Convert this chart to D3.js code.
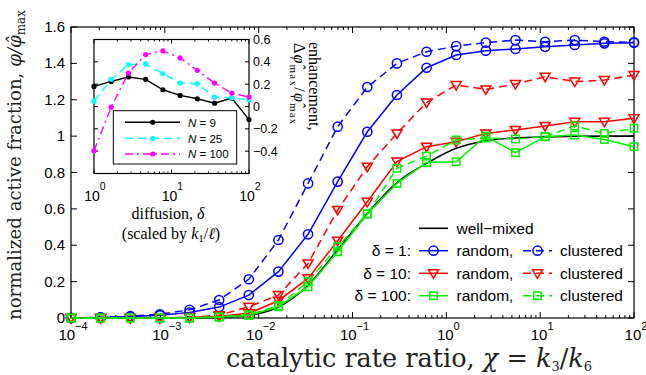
<!DOCTYPE html>
<html><head><meta charset="utf-8">
<script src="https://cdn.jsdelivr.net/npm/d3@7"></script>
<style>body{margin:0;background:#fff}svg{display:block}</style>
</head><body>
<script>
// ---- data ----
const chi = [1.0e-4, 2.069e-4, 4.281e-4, 8.859e-4, 1.833e-3, 3.793e-3, 7.848e-3, 1.624e-2, 3.360e-2, 6.952e-2,
             0.1438, 0.2976, 0.6158, 1.274, 2.637, 5.456, 11.29, 23.36, 48.33, 100];
const wellMixed    = [0,0,0,0,0.001,0.004,0.015,0.06,0.18,0.375,0.575,0.745,0.85,0.933,0.975,0.99,0.996,0.999,1,1];
const d1Random     = [0,0.003,0.008,0.015,0.03,0.06,0.126,0.255,0.46,0.75,1.024,1.226,1.376,1.446,1.47,1.479,1.491,1.501,1.51,1.513];
const d1Clustered  = [0,0.004,0.01,0.02,0.045,0.099,0.213,0.429,0.74,1.052,1.27,1.40,1.464,1.495,1.514,1.528,1.519,1.528,1.519,1.516];
const d10Random    = [0,0,0,0,0.003,0.01,0.026,0.095,0.218,0.425,0.639,0.86,0.942,0.969,1.015,1.034,1.056,1.079,1.079,1.098];
const d10Clustered = [0,0,0,0,0.005,0.015,0.062,0.126,0.30,0.594,0.832,1.015,1.185,1.281,1.257,1.286,1.327,1.30,1.308,1.336];
const d100Random   = [0,0,0,0,0,0.005,0.014,0.062,0.172,0.364,0.572,0.74,0.855,0.859,1.0,0.909,0.997,1.006,0.982,0.942];
const d100Clustered= [0,0,0,0,0,0.006,0.018,0.068,0.2,0.392,0.572,0.823,0.89,0.979,0.99,0.984,0.997,1.056,1.015,1.043];
const yTicks = [0,0.2,0.4,0.6,0.8,1,1.2,1.4,1.6];
const xTickExp = [-4,-3,-2,-1,0,1,2];

const diffusion = [1, 1.668, 2.783, 4.642, 7.743, 12.915, 21.544, 35.938, 59.948, 100];
const enhN9   = [0.18,0.225,0.264,0.243,0.15,0.099,0.069,0.03,0.075,-0.117];
const enhN25  = [0.048,0.243,0.375,0.381,0.294,0.21,0.204,0.084,0.078,0.06];
const enhN100 = [-0.396,-0.006,0.3,0.465,0.498,0.435,0.324,0.21,0.12,0.084];
const insetYTicks = [-0.4,-0.2,0,0.2,0.4,0.6];
const insetXTickExp = [0,1,2];

// ---- setup ----
const W = 646, H = 375;
const svg = d3.select("body").append("svg").attr("width", W).attr("height", H);
const sans = "'Liberation Sans', Arial, sans-serif";
const serif = "'Liberation Serif', 'Times New Roman', serif";
const wideSerif = "'DejaVu Serif', serif";

const x = d3.scaleLog().domain([1e-4, 1e2]).range([71, 634]);
const y = d3.scaleLinear().domain([0, 1.6]).range([318, 27]);

const BLUE = "#0000ff", RED = "#ff0000", GREEN = "#00f000";

function logTicks(lo, hi) {
  const major = [], minor = [];
  for (let e = lo; e <= hi; e++) {
    major.push(Math.pow(10, e));
    if (e < hi) for (let m = 2; m <= 9; m++) minor.push(m * Math.pow(10, e));
  }
  return {major, minor};
}

function fitText(sel, target) {
  const len = sel.node().getComputedTextLength();
  const fs = parseFloat(sel.attr("font-size"));
  sel.attr("font-size", fs * target / len);
}
function spreadText(sel, target) {
  const len = sel.node().getComputedTextLength();
  const n = sel.text().length;
  sel.attr("letter-spacing", Math.max(0, (target - len) / n));
}

// ---- main axes ----
const g = svg.append("g");
const [x0, x1] = x.range(), [yb, yt] = y.range();
g.append("rect").attr("x", x0).attr("y", yt).attr("width", x1 - x0).attr("height", yb - yt)
  .attr("fill", "none").attr("stroke", "#000").attr("stroke-width", 1.2);

const lt = logTicks(-4, 2);
lt.major.forEach(v => {
  g.append("line").attr("x1", x(v)).attr("x2", x(v)).attr("y1", yb).attr("y2", yb - 6).attr("stroke", "#000");
  g.append("line").attr("x1", x(v)).attr("x2", x(v)).attr("y1", yt).attr("y2", yt + 6).attr("stroke", "#000");
});
lt.minor.forEach(v => {
  g.append("line").attr("x1", x(v)).attr("x2", x(v)).attr("y1", yb).attr("y2", yb - 3).attr("stroke", "#000");
  g.append("line").attr("x1", x(v)).attr("x2", x(v)).attr("y1", yt).attr("y2", yt + 3).attr("stroke", "#000");
});
yTicks.forEach(v => {
  g.append("line").attr("x1", x0).attr("x2", x0 + 6).attr("y1", y(v)).attr("y2", y(v)).attr("stroke", "#000");
  g.append("line").attr("x1", x1).attr("x2", x1 - 6).attr("y1", y(v)).attr("y2", y(v)).attr("stroke", "#000");
  g.append("text").attr("x", x0 - 6).attr("y", y(v) + 5).attr("text-anchor", "end")
    .attr("font-family", sans).attr("font-size", 15).text(String(v));
});
xTickExp.forEach(e => {
  const t = g.append("text").attr("x", x(Math.pow(10, e)) + 2).attr("y", 340).attr("text-anchor", "middle")
    .attr("font-family", sans).attr("font-size", 15);
  t.append("tspan").text("10");
  t.append("tspan").attr("dy", -10).attr("font-size", 11).text(e < 0 ? "\u2212" + (-e) : String(e));
});

// axis labels
const xl = svg.append("text").attr("x", 409).attr("y", 367).attr("text-anchor", "middle")
  .attr("font-family", wideSerif).attr("font-size", 19).attr("fill", "#222");
xl.append("tspan").text("catalytic rate ratio, ");
xl.append("tspan").attr("font-style", "italic").text("\u03c7");
xl.append("tspan").text(" = ");
xl.append("tspan").attr("font-style", "italic").text("k");
xl.append("tspan").attr("dy", 4).attr("font-size", 13).text("3");
xl.append("tspan").attr("dy", -4).text("/");
xl.append("tspan").attr("font-style", "italic").text("k");
xl.append("tspan").attr("dy", 4).attr("font-size", 13).text("6");
fitText(xl, 372);

const yl = svg.append("text").attr("transform", "translate(21,165) rotate(-90)").attr("text-anchor", "middle")
  .attr("font-family", wideSerif).attr("font-size", 17).attr("fill", "#222");
yl.append("tspan").text("normalized active fraction, ");
yl.append("tspan").attr("font-style", "italic").text("\u03c6/\u03c6\u0302");
yl.append("tspan").attr("dy", 4).attr("font-size", 12).text("max");
fitText(yl, 312);

// ---- series ----
const line = d3.line().x((d, i) => x(chi[i])).y(d => y(d));
const smooth = d3.line().x((d, i) => x(chi[i])).y(d => y(d)).curve(d3.curveMonotoneX);

function marker(sel, shape, cx, cy, color) {
  if (shape === "o") sel.append("circle").attr("cx", cx).attr("cy", cy).attr("r", 4.6)
    .attr("fill", "none").attr("stroke", color).attr("stroke-width", 1.5);
  else if (shape === "v") sel.append("path")
    .attr("d", `M${cx - 5},${cy - 3.5}L${cx + 5},${cy - 3.5}L${cx},${cy + 5}Z`)
    .attr("fill", "none").attr("stroke", color).attr("stroke-width", 1.5);
  else sel.append("rect").attr("x", cx - 3.7).attr("y", cy - 3.7).attr("width", 7.4).attr("height", 7.4)
    .attr("fill", "none").attr("stroke", color).attr("stroke-width", 1.5);
}

const series = [
  {data: d1Random, color: BLUE, shape: "o", dash: null},
  {data: d1Clustered, color: BLUE, shape: "o", dash: "8,5"},
  {data: d10Random, color: RED, shape: "v", dash: null},
  {data: d10Clustered, color: RED, shape: "v", dash: "8,5"},
  {data: d100Random, color: GREEN, shape: "s", dash: null},
  {data: d100Clustered, color: GREEN, shape: "s", dash: "8,5"},
];

const sg = svg.append("g");
sg.append("path").attr("d", smooth(wellMixed)).attr("fill", "none").attr("stroke", "#000").attr("stroke-width", 1.6);
series.forEach(s => {
  const gg = sg.append("g");
  gg.append("path").attr("d", line(s.data)).attr("fill", "none").attr("stroke", s.color)
    .attr("stroke-width", 1.5).attr("stroke-dasharray", s.dash);
  s.data.forEach((v, i) => marker(gg, s.shape, x(chi[i]), y(v), s.color));
});

// ---- main legend ----
const lg = svg.append("g").attr("font-family", sans).attr("font-size", 15.5);
const rows = [228.3, 250.7, 273.3, 295.7];
lg.append("line").attr("x1", 419).attr("x2", 448).attr("y1", rows[0]).attr("y2", rows[0]).attr("stroke", "#000").attr("stroke-width", 1.6);
lg.append("text").attr("x", 456.5).attr("y", rows[0] + 5.5).text("well\u2212mixed");
const legRows = [
  {label: "\u03b4 = 1:", color: BLUE, shape: "o"},
  {label: "\u03b4 = 10:", color: RED, shape: "v"},
  {label: "\u03b4 = 100:", color: GREEN, shape: "s"},
];
legRows.forEach((r, i) => {
  const ry = rows[i + 1];
  lg.append("text").attr("x", 411).attr("y", ry + 5.5).attr("text-anchor", "end").text(r.label);
  lg.append("line").attr("x1", 419).attr("x2", 448).attr("y1", ry).attr("y2", ry).attr("stroke", r.color).attr("stroke-width", 1.5);
  marker(lg, r.shape, 433.5, ry, r.color);
  lg.append("text").attr("x", 456.5).attr("y", ry + 5.5).text("random,");
  lg.append("line").attr("x1", 523).attr("x2", 552).attr("y1", ry).attr("y2", ry).attr("stroke", r.color)
    .attr("stroke-width", 1.5).attr("stroke-dasharray", "8,5");
  marker(lg, r.shape, 537.5, ry, r.color);
  lg.append("text").attr("x", 560).attr("y", ry + 5.5).text("clustered");
});

// ---- inset ----
const ix = d3.scaleLog().domain([1, 100]).range([94, 249]);
const iy = d3.scaleLinear().domain([-0.6, 0.6]).range([173.5, 39.5]);
const ig = svg.append("g");
const [ix0, ix1] = ix.range(), [iyb, iyt] = iy.range();
ig.append("rect").attr("x", ix0).attr("y", iyt).attr("width", ix1 - ix0).attr("height", iyb - iyt)
  .attr("fill", "#fff").attr("stroke", "#000").attr("stroke-width", 1.2);
const ilt = logTicks(0, 2);
ilt.major.forEach(v => {
  ig.append("line").attr("x1", ix(v)).attr("x2", ix(v)).attr("y1", iyb).attr("y2", iyb - 4).attr("stroke", "#000");
  ig.append("line").attr("x1", ix(v)).attr("x2", ix(v)).attr("y1", iyt).attr("y2", iyt + 4).attr("stroke", "#000");
});
ilt.minor.forEach(v => {
  ig.append("line").attr("x1", ix(v)).attr("x2", ix(v)).attr("y1", iyb).attr("y2", iyb - 2).attr("stroke", "#000");
  ig.append("line").attr("x1", ix(v)).attr("x2", ix(v)).attr("y1", iyt).attr("y2", iyt + 2).attr("stroke", "#000");
});
insetYTicks.forEach(v => {
  ig.append("line").attr("x1", ix1).attr("x2", ix1 - 4).attr("y1", iy(v)).attr("y2", iy(v)).attr("stroke", "#000");
  ig.append("line").attr("x1", ix0).attr("x2", ix0 + 4).attr("y1", iy(v)).attr("y2", iy(v)).attr("stroke", "#000");
  ig.append("text").attr("x", ix1 + 4).attr("y", iy(v) + 4.5).attr("font-family", sans).attr("font-size", 12.5)
    .text(d3.format("~g")(v).replace("-", "\u2212"));
});
insetXTickExp.forEach(e => {
  const t = ig.append("text").attr("x", ix(Math.pow(10, e)) + 1).attr("y", 201).attr("text-anchor", "middle")
    .attr("font-family", sans).attr("font-size", 14);
  t.append("tspan").text("10");
  t.append("tspan").attr("dy", -11).attr("font-size", 10.5).text(String(e));
});

const iline = d3.line().x((d, i) => ix(diffusion[i])).y(d => iy(d));
const insetSeries = [
  {data: enhN9, color: "#000", dash: null, label: "9"},
  {data: enhN25, color: "#00ffff", dash: "8,5", label: "25"},
  {data: enhN100, color: "#ff00ff", dash: "8,4,2,4", label: "100"},
];
insetSeries.forEach(s => {
  ig.append("path").attr("d", iline(s.data)).attr("fill", "none").attr("stroke", s.color)
    .attr("stroke-width", 1.4).attr("stroke-dasharray", s.dash);
  s.data.forEach((v, i) => ig.append("circle").attr("cx", ix(diffusion[i])).attr("cy", iy(v)).attr("r", 2.6).attr("fill", s.color));
});

// inset legend
ig.append("rect").attr("x", 113.3).attr("y", 110.7).attr("width", 123.4).attr("height", 53.3)
  .attr("fill", "#fff").attr("stroke", "#000").attr("stroke-width", 1);
const irows = [122.3, 138.3, 154];
insetSeries.forEach((s, i) => {
  const ry = irows[i];
  ig.append("line").attr("x1", 125).attr("x2", 180).attr("y1", ry).attr("y2", ry).attr("stroke", s.color)
    .attr("stroke-width", 1.4).attr("stroke-dasharray", s.dash);
  ig.append("circle").attr("cx", 152.7).attr("cy", ry).attr("r", 2.6).attr("fill", s.color);
  const t = ig.append("text").attr("x", 188).attr("y", ry + 4.2).attr("font-family", sans).attr("font-size", 11.5);
  t.append("tspan").attr("font-style", "italic").text("N");
  t.append("tspan").text(" = " + s.label);
});

// inset labels
const il1 = svg.append("text").attr("x", 168).attr("y", 219).attr("text-anchor", "middle")
  .attr("font-family", serif).attr("font-size", 16);
il1.append("tspan").text("diffusion, ");
il1.append("tspan").attr("font-style", "italic").text("\u03b4");
const il2 = svg.append("text").attr("x", 171).attr("y", 239).attr("text-anchor", "middle")
  .attr("font-family", serif).attr("font-size", 16);
il2.append("tspan").text("(scaled by ");
il2.append("tspan").attr("font-style", "italic").text("k");
il2.append("tspan").attr("dy", 3).attr("font-size", 11).text("1");
il2.append("tspan").attr("dy", -3).text("/");
il2.append("tspan").attr("font-style", "italic").text("\u2113");
il2.append("tspan").text(")");

const ry1 = svg.append("text").attr("transform", "translate(309,42) rotate(90)")
  .attr("font-family", serif).attr("font-size", 16).text("enhancement,");
spreadText(ry1, 88);
const ry2 = svg.append("text").attr("transform", "translate(294,43) rotate(90)")
  .attr("font-family", serif).attr("font-size", 16);
ry2.append("tspan").text("\u0394");
ry2.append("tspan").attr("font-style", "italic").text("\u03c6\u0302");
ry2.append("tspan").attr("dy", 4).attr("font-size", 11).text("max");
ry2.append("tspan").attr("dy", -4).text("/");
ry2.append("tspan").attr("font-style", "italic").text("\u03c6\u0302");
ry2.append("tspan").attr("dy", 4).attr("font-size", 11).text("max");
spreadText(ry2, 85);
</script>
</body></html>
